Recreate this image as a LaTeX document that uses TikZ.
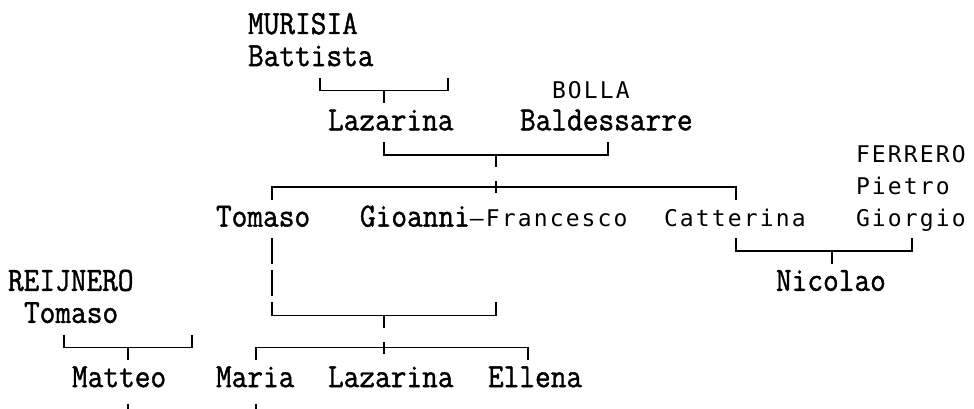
\documentclass[tikz,border=0pt]{standalone}
\usepackage{fontspec}
\newfontfamily\gothmono[LetterSpace=9.3]{DejaVu Sans Mono}
\newfontfamily\minmono[FakeStretch=0.9,FakeBold=1.2]{Latin Modern Mono}
\newcommand{\minfont}{\minmono\fontsize{33.86}{33.86}\selectfont}
\newcommand{\gothfont}{\gothmono\fontsize{23}{23}\selectfont}

\begin{document}
\begin{tikzpicture}[
    x=16pt, y=-32.1pt,
    serifname/.style={anchor=base west, inner sep=0pt, outer sep=0pt, yshift=-7.5pt, font=\minfont},
    sansname/.style={serifname, font=\gothfont},
    bracket/.style={line width=1.6pt},
]

\useasboundingbox (0pt,0pt) rectangle (974pt,-409pt);

\begin{scope}[shift={(8pt,-26.5pt)}]

% Names, one text row per unit, one character cell per unit
\node[serifname] (murisia)     at (15,0)  {MURISIA};
\node[serifname] (battista)    at (15,1)  {Battista};
\node[sansname]  (bolla)       at (34,2)  {BOLLA};
\node[serifname] (lazarina)    at (20,3)  {Lazarina};
\node[serifname] (baldessarre) at (32,3)  {Baldessarre};
\node[sansname]  (ferrero)     at (53,4)  {FERRERO};
\node[sansname]  (pietro)      at (53,5)  {Pietro};
\node[serifname] (tomaso)      at (13,6)  {Tomaso};
\node[serifname] (gioanni)     at (22,6)  {Gioanni{\gothfont—Francesco}};
\node[sansname]  (catterina)   at (41,6)  {Catterina};
\node[sansname]  (giorgio)     at (53,6)  {Giorgio};
\node[serifname] (reijnero)    at (0,8)   {REIJNERO};
\node[serifname] (nicolao)     at (48,8)  {Nicolao};
\node[serifname] (tomasor)     at (1,9)   {Tomaso};
\node[serifname] (matteo)      at (4,11)  {Matteo};
\node[serifname] (maria)       at (13,11) {Maria};
\node[serifname] (lazarinab)   at (20,11) {Lazarina};
\node[serifname] (ellena)      at (30,11) {Ellena};

% Couples: corners up to the parents, drop down to the child
\foreach \row/\l/\m/\r in {2/19.5/23.5/27.5, 4/23.5/30.5/37.5, 7/45.5/51.5/56.5, 9/16.5/23.5/30.5, 10/3.5/7.5/11.5} {
    \coordinate (L) at (\l,\row);
    \coordinate (M) at (\m,\row);
    \coordinate (R) at (\r,\row);
    \draw[bracket] ([yshift=13pt]L) -- (L) -- (R) -- ([yshift=13pt]R);
    \draw[bracket] (M) -- ([yshift=-12.5pt]M);
}

% Sibling rails with the plus
\foreach \row/\l/\m/\r in {5/16.5/30.5/45.5, 10/15.5/23.5/32.5} {
    \coordinate (L) at (\l,\row);
    \coordinate (M) at (\m,\row);
    \coordinate (R) at (\r,\row);
    \draw[bracket] ([yshift=-12.5pt]L) -- (L) -- (R) -- ([yshift=-12.5pt]R);
    \draw[bracket] ([yshift=6pt]M) -- ([yshift=-6pt]M);
}

% Tomaso line down
\foreach \row in {7,8} {
    \coordinate (T) at (16.5,\row);
    \draw[bracket] ([yshift=13pt]T) -- ([yshift=-12.5pt]T);
}

% Stubs below the last row
\foreach \col in {7.5,15.5} {
    \coordinate (S) at (\col,12);
    \draw[bracket] ([yshift=8pt]S) -- ([yshift=-2pt]S);
}

\end{scope}

\end{tikzpicture}
\end{document}
